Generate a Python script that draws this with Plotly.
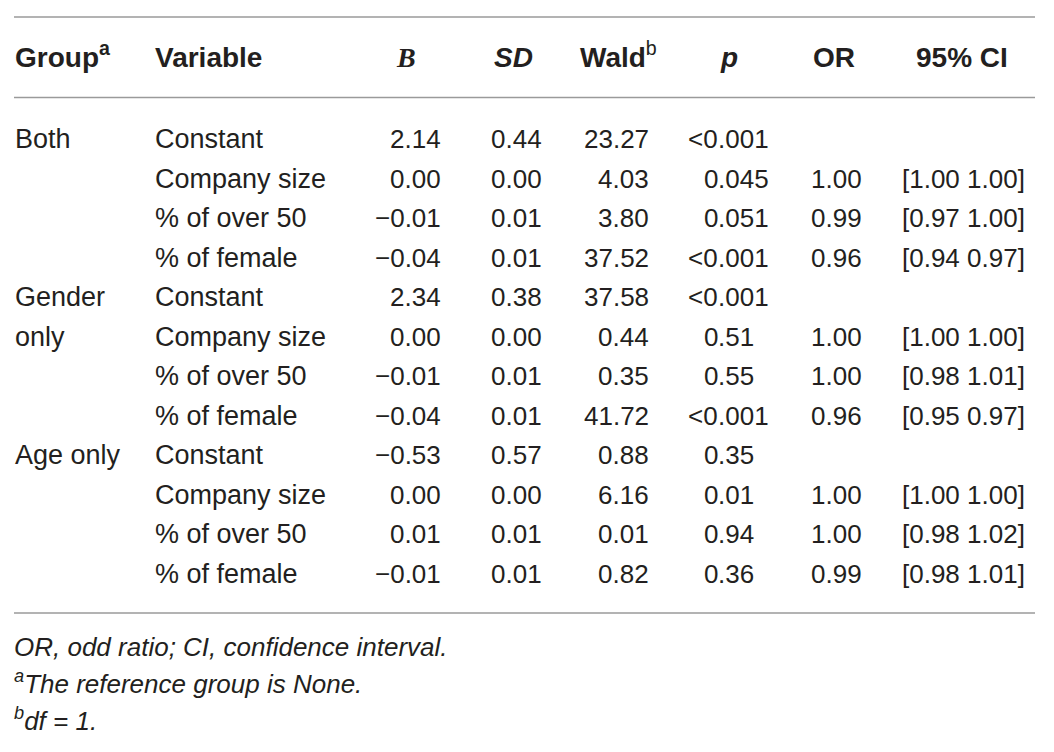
import plotly.graph_objects as go

# table content
group_labels = ["Both", "", "", "", "Gender", "only", "", "", "Age only", "", "", ""]
variables = ["Constant", "Company size", "% of over 50", "% of female",
             "Constant", "Company size", "% of over 50", "% of female",
             "Constant", "Company size", "% of over 50", "% of female"]
b_values = [2.14, 0.00, -0.01, -0.04, 2.34, 0.00, -0.01, -0.04, -0.53, 0.00, 0.01, -0.01]
sd_values = [0.44, 0.00, 0.01, 0.01, 0.38, 0.00, 0.01, 0.01, 0.57, 0.00, 0.01, 0.01]
wald_values = [23.27, 4.03, 3.80, 37.52, 37.58, 0.44, 0.35, 41.72, 0.88, 6.16, 0.01, 0.82]
p_values = ["<0.001", "0.045", "0.051", "<0.001", "<0.001", "0.51", "0.55", "<0.001",
            "0.35", "0.01", "0.94", "0.36"]
or_values = [None, 1.00, 0.99, 0.96, None, 1.00, 1.00, 0.96, None, 1.00, 1.00, 0.99]
ci_low = [None, 1.00, 0.97, 0.94, None, 1.00, 0.98, 0.95, None, 1.00, 0.98, 0.98]
ci_high = [None, 1.00, 1.00, 0.97, None, 1.00, 1.01, 0.97, None, 1.00, 1.02, 1.01]

footnotes = ["OR, odd ratio; CI, confidence interval.",
             "<sup>a</sup>The reference group is None.",
             "<sup>b</sup>df = 1."]

SANS = "Liberation Sans, Arial, sans-serif"
SERIF = "Liberation Serif, Times New Roman, serif"
INK = "#231f20"
RULE = "#9a9a9a"
FS_HEAD = 28
FS_TEXT = 27
FS_NUM = 26

# the html page body has an 8px margin, so the figure is shrunk by that
# and the axis ranges start at 8 so coordinates stay in window pixels
PAGE_PAD = 8
W, H = 1054, 752
LEFT, RIGHT = 14, 1035
HEADER_BOTTOM = 73
ROW0_Y = 139
ROW_STEP = 39.5


def fmt(v):
    if v is None:
        return ""
    return f"{v:.2f}".replace("-", "\u2212")


fig = go.Figure()
fig.add_trace(go.Scatter(x=[], y=[], hoverinfo="skip", showlegend=False))

annotations = []


def put(x, y, text, anchor, family=SANS, size=FS_NUM, valign="middle"):
    if text == "":
        return
    annotations.append(dict(
        x=x, y=y, xref="x", yref="y", text=text, showarrow=False,
        xanchor=anchor, yanchor=valign, borderpad=0, borderwidth=0,
        font=dict(family=family, size=size, color=INK),
    ))


# header row, anchored on the bottom so superscripts don't shift the baseline
head = dict(size=FS_HEAD, valign="bottom")
put(LEFT + 1, HEADER_BOTTOM, "<b>Group<sup>a</sup></b>", "left", **head)
put(155, HEADER_BOTTOM, "<b>Variable</b>", "left", **head)
put(406, HEADER_BOTTOM, "<b><i>B</i></b>", "center", family=SERIF, **head)
put(513, HEADER_BOTTOM, "<b><i>SD</i></b>", "center", **head)
put(580, HEADER_BOTTOM, "<b>Wald</b><sup>b</sup>", "left", **head)
put(729, HEADER_BOTTOM, "<b><i>p</i></b>", "center", **head)
put(834, HEADER_BOTTOM, "<b>OR</b>", "center", **head)
put(962, HEADER_BOTTOM, "<b>95% CI</b>", "center", **head)

# body rows
for i in range(len(variables)):
    y = ROW0_Y + i * ROW_STEP
    put(LEFT + 1, y, group_labels[i], "left", size=FS_TEXT)
    put(155, y, variables[i], "left", size=FS_TEXT)
    put(441, y, fmt(b_values[i]), "right")
    put(542, y, fmt(sd_values[i]), "right")
    put(649, y, fmt(wald_values[i]), "right")
    # p column aligned on the decimal point
    whole, frac = p_values[i].split(".")
    put(718, y, whole, "right")
    put(718, y, "." + frac, "left")
    put(836, y, fmt(or_values[i]), "center")
    if ci_low[i] is not None:
        put(963, y, f"[{fmt(ci_low[i])} {fmt(ci_high[i])}]", "center")

# footnotes
for k, note in enumerate(footnotes):
    put(LEFT, 662 + k * 37, f"<i>{note}</i>", "left", valign="bottom")

fig.update_layout(annotations=annotations)

# horizontal rules
for y in [17, 97.5, 613]:
    fig.add_shape(type="line", xref="x", yref="y", x0=LEFT, x1=RIGHT, y0=y, y1=y,
                  line=dict(color=RULE, width=1.5))

fig.update_layout(
    width=W - PAGE_PAD, height=H - PAGE_PAD,
    margin=dict(l=0, r=0, t=0, b=0),
    paper_bgcolor="white", plot_bgcolor="white",
    xaxis=dict(range=[PAGE_PAD, W], visible=False, fixedrange=True),
    yaxis=dict(range=[H, PAGE_PAD], visible=False, fixedrange=True),
    showlegend=False,
)

fig.write_html("out.html")
